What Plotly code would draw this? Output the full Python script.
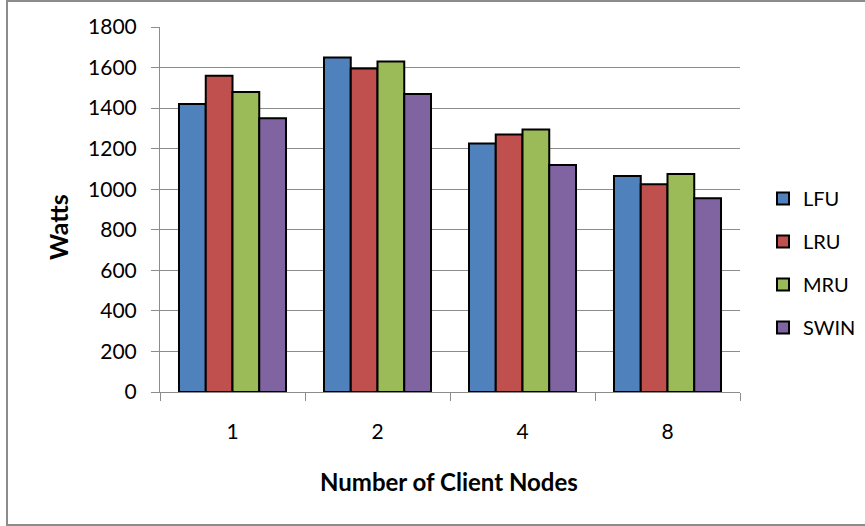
import plotly.graph_objects as go

# Average power draw per cache replacement policy
nodes = ["1", "2", "4", "8"]
lfu = [1420, 1650, 1225, 1065]
lru = [1560, 1595, 1270, 1025]
mru = [1480, 1630, 1295, 1075]
swin = [1350, 1470, 1120, 955]

policies = ["LFU", "LRU", "MRU", "SWIN"]
series = [lfu, lru, mru, swin]
colors = ["#4F81BD", "#C0504D", "#9BBB59", "#8064A2"]

W, H = 865, 526
L, R, T, B = 160, 125, 27, 134
pw, ph = W - L - R, H - T - B


def px_x(x):
    return (x - L) / pw


def px_y(y):
    return (H - B - y) / ph


FONT = "Lato, 'Open Sans', sans-serif"
AX = "#8c8c8c"

fig = go.Figure()
for name, vals, col in zip(policies, series, colors):
    fig.add_trace(go.Bar(
        x=nodes, y=vals, name=name, legendgroup=name,
        marker=dict(color=col, line=dict(color="#000000", width=2)),
    ))

fig.update_layout(
    width=W, height=H,
    margin=dict(l=L, r=R, t=T, b=B, pad=0, autoexpand=False),
    paper_bgcolor="white", plot_bgcolor="white",
    barmode="group", bargap=0.262, bargroupgap=0,
    font=dict(family=FONT, size=21, color="#000000"),
    showlegend=True,
    legend=dict(
        x=px_x(763), xanchor="left",
        y=px_y(263), yanchor="middle",
        traceorder="grouped", tracegroupgap=14,
        font=dict(family=FONT, size=20, color="#000000"),
        bgcolor="rgba(0,0,0,0)", borderwidth=0,
    ),
    xaxis=dict(
        type="category", showgrid=False, zeroline=False,
        showline=True, linecolor=AX, linewidth=1,
        ticks="outside", tickson="boundaries", ticklen=8,
        tickcolor=AX, tickwidth=1, ticklabelstandoff=21,
        tickfont=dict(family=FONT, size=21, color="#000000"),
    ),
    yaxis=dict(
        range=[0, 1800], dtick=200, showgrid=True,
        gridcolor=AX, gridwidth=1, zeroline=False,
        showline=True, linecolor=AX, linewidth=1,
        ticks="outside", ticklen=8, tickcolor=AX, tickwidth=1,
        ticklabelstandoff=10,
        tickfont=dict(family=FONT, size=21, color="#000000"),
    ),
    shapes=[dict(
        type="rect", xref="paper", yref="paper",
        x0=px_x(7), x1=px_x(870), y0=px_y(525), y1=px_y(1),
        line=dict(color="#8c8c8c", width=2), fillcolor="rgba(0,0,0,0)",
        layer="below",
    )],
    annotations=[
        dict(text="<b>Watts</b>", xref="paper", yref="paper",
             x=px_x(58), y=px_y(227), xanchor="center", yanchor="middle",
             textangle=-90, showarrow=False,
             font=dict(family=FONT, size=25, color="#000000")),
        dict(text="<b>Number of Client Nodes</b>", xref="paper", yref="paper",
             x=px_x(449), y=px_y(481), xanchor="center", yanchor="middle",
             showarrow=False,
             font=dict(family=FONT, size=24, color="#000000")),
    ],
)

fig.write_html("out.html")
